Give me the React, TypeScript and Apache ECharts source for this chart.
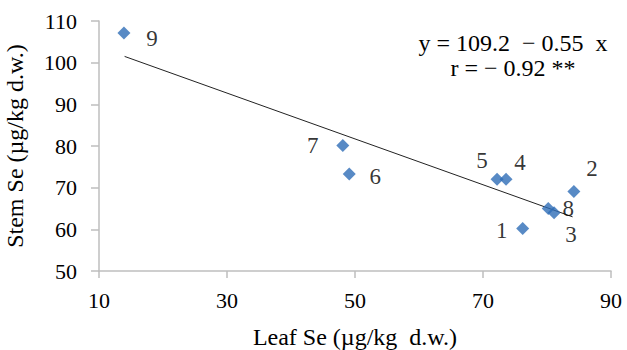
import React, { useEffect, useRef } from "react";
import * as echarts from "echarts";

const pointIds = ["1", "2", "3", "4", "5", "6", "7", "8", "9"];
const leafSe = [76.2, 84.2, 81.1, 73.6, 72.2, 49.1, 48.1, 80.2, 13.9];
const stemSe = [60.2, 69.1, 64.0, 72.0, 72.0, 73.3, 80.1, 65.0, 107.1];
const labelOffsets: number[][] = [
  [-21, 2], [18, -23], [17, 22], [14, -17], [-15, -19], [26, 3], [-30, 0], [20, 0], [28, 5],
];
const intercept = 109.2;
const slope = -0.55;
const trendX = [14, 84];
const xTicks = [10, 30, 50, 70, 90];
const yTicks = [50, 60, 70, 80, 90, 100, 110];

const FONT = "'Liberation Serif', 'Times New Roman', serif";

export default function App() {
  const ref = useRef<HTMLDivElement>(null);
  useEffect(() => {
    if (!ref.current) return;
    const chart = echarts.init(ref.current, undefined, { renderer: "svg" });
    const axisLine = { show: true, lineStyle: { color: "#BEBEBE", width: 1.5 } };
    chart.setOption({
      animation: false,
      backgroundColor: "#fff",
      textStyle: { fontFamily: FONT },
      grid: { left: 99, right: 16, top: 21, bottom: 79, containLabel: false, outerBoundsMode: "none" },
      xAxis: {
        type: "value",
        min: xTicks[0],
        max: xTicks[xTicks.length - 1],
        interval: 20,
        name: "Leaf Se (µg/kg  d.w.)",
        nameLocation: "middle",
        nameGap: 54,
        nameTextStyle: { fontFamily: FONT, fontSize: 24, color: "#000" },
        axisLine,
        axisTick: { show: true, length: 7, lineStyle: { color: "#BEBEBE", width: 1.5 } },
        axisLabel: { fontFamily: FONT, fontSize: 22, color: "#000", margin: 18 },
        splitLine: { show: false },
      },
      yAxis: {
        type: "value",
        min: yTicks[0],
        max: yTicks[yTicks.length - 1],
        interval: 10,
        name: "Stem Se (µg/kg d.w.)",
        nameLocation: "middle",
        nameGap: 72,
        nameRotate: 90,
        nameTextStyle: { fontFamily: FONT, fontSize: 24, color: "#000" },
        axisLine,
        axisTick: { show: true, length: 8, lineStyle: { color: "#BEBEBE", width: 1.5 } },
        axisLabel: { fontFamily: FONT, fontSize: 22, color: "#000", margin: 22 },
        splitLine: { show: false },
      },
      series: [
        {
          type: "line",
          data: trendX.map((x) => [x, intercept + slope * x]),
          symbol: "none",
          lineStyle: { color: "#222", width: 1 },
          z: 1,
        },
        {
          type: "scatter",
          symbol: "diamond",
          symbolSize: [13, 13],
          itemStyle: { color: "#2E6DB7" },
          z: 2,
          data: leafSe.map((x, i) => ({
            value: [x, stemSe[i]],
            label: {
              show: true,
              position: "inside",
              offset: labelOffsets[i],
              formatter: pointIds[i],
              fontFamily: FONT,
              fontSize: 23,
              color: "#000",
            },
          })),
        },
      ],
      graphic: [
        {
          type: "text",
          x: 513,
          y: 43,
          style: {
            text: "y = 109.2  − 0.55  x",
            font: "24px " + FONT,
            fill: "#000",
            align: "center",
            verticalAlign: "middle",
          },
        },
        {
          type: "text",
          x: 513,
          y: 68,
          style: {
            text: "r = − 0.92 **",
            font: "24px " + FONT,
            fill: "#000",
            align: "center",
            verticalAlign: "middle",
          },
        },
      ],
    });
    return () => chart.dispose();
  }, []);
  return (
    <div
      ref={ref}
      style={{ position: "fixed", left: 0, top: 0, width: 627, height: 350 }}
    />
  );
}
